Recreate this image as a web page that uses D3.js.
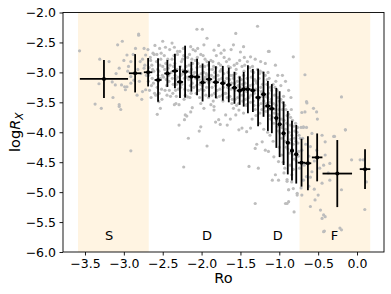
<!DOCTYPE html>
<html>
<head>
<meta charset="utf-8">
<script src="https://cdn.jsdelivr.net/npm/d3@7"></script>
<style>
html,body{margin:0;padding:0;background:#fff;}
text{font-family:"DejaVu Sans",sans-serif;}
</style>
</head>
<body>
<svg id="chart" width="391" height="294"></svg>
<script>
// ---- data ----
const xTicks = [-3.5, -3.0, -2.5, -2.0, -1.5, -1.0, -0.5, 0.0];
const yTicks = [-6.0, -5.5, -5.0, -4.5, -4.0, -3.5, -3.0, -2.5, -2.0];
const regionSpans = [[-3.59, -2.68], [-0.74, 0.17]];
const regionLabels = ["S", "D", "D", "F"];
const regionLabelRo = [-3.19, -1.93, -1.02, -0.29];
const regionLabelY = -5.72;

// binned means
const binRo   = [-3.256,-2.855,-2.688,-2.56,-2.44,-2.343,-2.278,-2.212,-2.132,-2.058,-1.987,-1.904,-1.817,-1.727,-1.65,-1.577,-1.51,-1.458,-1.404,-1.34,-1.273,-1.203,-1.147,-1.096,-1.038,-0.996,-0.945,-0.891,-0.837,-0.782,-0.714,-0.632,-0.513,-0.254,0.103];
const binLogR = [-3.11,-3.015,-2.998,-3.127,-3.018,-2.977,-3.16,-2.988,-3.072,-3.077,-3.169,-3.114,-3.165,-3.182,-3.21,-3.257,-3.305,-3.282,-3.282,-3.302,-3.419,-3.366,-3.561,-3.606,-3.761,-3.865,-4.017,-4.174,-4.307,-4.367,-4.508,-4.518,-4.42,-4.69,-4.616];
const binXErr = [0.31,0.08,0.055,0.045,0.04,0.04,0.04,0.04,0.04,0.04,0.04,0.04,0.04,0.035,0.035,0.035,0.035,0.035,0.035,0.035,0.035,0.035,0.035,0.035,0.025,0.025,0.025,0.025,0.025,0.025,0.05,0.043,0.068,0.19,0.068];
const binYErr = [0.317,0.32,0.237,0.364,0.225,0.287,0.267,0.434,0.25,0.306,0.317,0.30,0.267,0.29,0.29,0.267,0.237,0.29,0.40,0.36,0.48,0.376,0.417,0.41,0.5,0.55,0.53,0.53,0.5,0.49,0.40,0.45,0.40,0.56,0.33];

// individual stars [Ro, logRx]
const stars = [
[-3.57,-2.64],[-3.31,-2.78],[-3.37,-3.53],[-3.29,-3.60],[-3.32,-3.19],[-3.19,-2.82],[-3.14,-3.42],[-3.15,-3.16],
[-3.06,-3.54],[-3.04,-3.62],[-3.08,-2.54],[-3.02,-2.48],[-3.06,-2.93],[-3.00,-2.80],[-2.96,-2.71],[-2.91,-2.82],
[-2.94,-2.90],[-3.11,-3.21],[-3.03,-3.21],[-2.99,-3.24],[-2.91,-3.18],[-2.87,-3.13],[-2.91,-3.07],[-2.81,-2.38],
[-2.85,-2.60],[-2.74,-2.60],[-2.72,-2.71],[-2.79,-2.82],[-2.74,-2.93],[-2.72,-3.29],[-2.76,-3.32],[-2.83,-3.38],
[-2.96,-3.24],[-2.98,-3.29],[-3.06,-3.57],[-2.81,-2.36],[-2.91,-4.31],[-2.23,-4.58],[-2.95,-2.98],[-2.78,-3.02],
[-2.80,-3.15],[-2.76,-2.78],[-2.71,-3.05],[-2.73,-2.88],[-2.82,-2.95],[-2.88,-2.7],[-3.1,-3.02],[-2.77,-3.45],
// band
[-2.69,-2.62],[-2.66,-2.75],[-2.64,-2.88],[-2.68,-3.05],[-2.62,-3.18],[-2.67,-3.3],[-2.63,-2.95],[-2.61,-2.7],[-2.65,-3.42],[-2.6,-2.55],
[-2.58,-2.82],[-2.55,-2.98],[-2.53,-3.1],[-2.57,-3.25],[-2.52,-2.68],[-2.5,-2.9],[-2.59,-3.38],[-2.54,-2.6],[-2.51,-3.45],[-2.56,-3.05],
[-2.48,-2.72],[-2.46,-2.85],[-2.44,-3.0],[-2.42,-3.15],[-2.47,-3.3],[-2.41,-2.62],[-2.45,-3.22],[-2.43,-2.93],[-2.49,-3.08],[-2.4,-3.4],
[-2.38,-2.78],[-2.36,-2.9],[-2.34,-3.05],[-2.32,-3.2],[-2.37,-3.35],[-2.31,-2.7],[-2.35,-2.58],[-2.33,-3.12],[-2.39,-3.0],[-2.3,-3.28],
[-2.28,-2.65],[-2.26,-2.82],[-2.24,-2.96],[-2.22,-3.1],[-2.27,-3.25],[-2.21,-3.38],[-2.25,-3.03],[-2.23,-2.72],[-2.29,-3.15],[-2.2,-2.9],
[-2.18,-2.75],[-2.16,-2.88],[-2.14,-3.0],[-2.12,-3.18],[-2.17,-3.3],[-2.11,-2.62],[-2.15,-3.42],[-2.13,-2.95],[-2.19,-3.08],[-2.1,-3.25],
[-2.08,-2.8],[-2.06,-2.92],[-2.04,-3.05],[-2.02,-3.2],[-2.07,-3.35],[-2.01,-2.7],[-2.05,-2.6],[-2.03,-3.12],[-2.09,-3.0],[-2.0,-3.28],
[-1.98,-2.72],[-1.96,-2.9],[-1.94,-3.02],[-1.92,-3.15],[-1.97,-3.3],[-1.91,-3.42],[-1.95,-3.08],[-1.93,-2.82],[-1.99,-3.22],[-1.9,-2.95],
[-1.88,-2.8],[-1.86,-2.95],[-1.84,-3.08],[-1.82,-3.22],[-1.87,-3.38],[-1.81,-2.72],[-1.85,-3.48],[-1.83,-3.0],[-1.89,-3.15],[-1.8,-3.3],
[-1.78,-2.85],[-1.76,-2.98],[-1.74,-3.1],[-1.72,-3.25],[-1.77,-3.4],[-1.71,-2.75],[-1.75,-2.68],[-1.73,-3.18],[-1.79,-3.05],[-1.7,-3.35],
[-1.68,-2.82],[-1.66,-3.0],[-1.64,-3.12],[-1.62,-3.28],[-1.67,-3.42],[-1.61,-3.52],[-1.65,-3.2],[-1.63,-2.92],[-1.69,-3.35],[-1.6,-3.05],
[-1.58,-2.88],[-1.56,-3.02],[-1.54,-3.15],[-1.52,-3.3],[-1.57,-3.45],[-1.51,-2.8],[-1.55,-3.55],[-1.53,-3.22],[-1.59,-3.1],[-1.5,-3.38],
[-1.48,-2.9],[-1.46,-3.05],[-1.44,-3.18],[-1.42,-3.32],[-1.47,-3.48],[-1.41,-2.82],[-1.45,-2.75],[-1.43,-3.25],[-1.49,-3.12],[-1.4,-3.42],
[-1.38,-2.92],[-1.36,-3.08],[-1.34,-3.2],[-1.32,-3.35],[-1.37,-3.5],[-1.31,-3.62],[-1.35,-3.28],[-1.33,-3.0],[-1.39,-3.42],[-1.3,-3.15],
[-1.28,-2.95],[-1.26,-3.1],[-1.24,-3.25],[-1.22,-3.4],[-1.27,-3.55],[-1.21,-3.0],[-1.25,-3.68],[-1.23,-3.32],[-1.29,-3.18],[-1.2,-3.48],
[-1.18,-3.05],[-1.16,-3.2],[-1.14,-3.35],[-1.12,-3.5],[-1.17,-3.65],[-1.11,-3.78],[-1.15,-3.42],[-1.13,-3.1],[-1.19,-3.58],[-1.1,-3.3],
[-1.08,-3.2],[-1.06,-3.38],[-1.04,-3.55],[-1.02,-3.7],[-1.07,-3.85],[-1.01,-3.98],[-1.05,-3.62],[-1.03,-3.3],[-1.09,-3.75],[-1.0,-3.48],
[-0.98,-3.45],[-0.96,-3.62],[-0.94,-3.8],[-0.92,-3.95],[-0.97,-4.1],[-0.91,-4.25],[-0.95,-3.88],[-0.93,-3.55],[-0.99,-4.02],[-0.9,-3.72],
[-0.88,-3.7],[-0.86,-3.88],[-0.84,-4.05],[-0.82,-4.2],[-0.87,-4.35],[-0.81,-4.45],[-0.85,-4.12],[-0.83,-3.8],[-0.89,-4.28],[-0.8,-3.98],
[-0.79,-3.85],[-0.77,-4.0],[-0.76,-4.18],[-0.75,-4.32],[-0.78,-4.48],[-0.73,-4.1],[-0.74,-4.6],[-0.72,-3.92],
// band, second layer
[-2.655,-2.8],[-2.635,-3.1],[-2.615,-2.98],[-2.645,-3.22],[-2.625,-2.68],[-2.605,-3.35],[-2.675,-2.92],[-2.685,-3.15],
[-2.575,-2.7],[-2.555,-3.15],[-2.535,-2.88],[-2.515,-3.28],[-2.565,-2.95],[-2.545,-3.35],[-2.525,-2.78],[-2.505,-3.05],
[-2.475,-2.95],[-2.455,-3.12],[-2.435,-2.78],[-2.415,-3.3],[-2.465,-2.58],[-2.445,-3.38],[-2.425,-3.05],[-2.405,-2.88],
[-2.375,-3.1],[-2.355,-2.72],[-2.335,-3.3],[-2.315,-2.95],[-2.365,-3.2],[-2.345,-2.85],[-2.325,-3.4],[-2.305,-3.08],
[-2.275,-2.9],[-2.255,-3.2],[-2.235,-2.6],[-2.215,-3.28],[-2.265,-3.05],[-2.245,-2.78],[-2.225,-3.45],[-2.205,-3.0],
[-2.175,-2.98],[-2.155,-2.7],[-2.135,-3.35],[-2.115,-2.85],[-2.165,-3.12],[-2.145,-3.22],[-2.125,-2.78],[-2.105,-3.05],
[-2.075,-3.1],[-2.055,-2.75],[-2.035,-3.3],[-2.015,-2.9],[-2.065,-3.22],[-2.045,-2.85],[-2.025,-3.42],[-2.005,-3.02],
[-1.975,-3.0],[-1.955,-2.78],[-1.935,-3.25],[-1.915,-2.88],[-1.965,-3.12],[-1.945,-3.38],[-1.925,-3.05],[-1.905,-3.18],
[-1.875,-3.05],[-1.855,-2.82],[-1.835,-3.35],[-1.815,-2.92],[-1.865,-3.25],[-1.845,-2.9],[-1.825,-3.15],[-1.805,-3.42],
[-1.775,-3.12],[-1.755,-2.88],[-1.735,-3.38],[-1.715,-3.02],[-1.765,-3.28],[-1.745,-2.95],[-1.725,-3.48],[-1.705,-3.15],
[-1.675,-3.1],[-1.655,-2.9],[-1.635,-3.4],[-1.615,-3.18],[-1.665,-3.25],[-1.645,-2.78],[-1.625,-3.05],[-1.605,-3.45],
[-1.575,-3.18],[-1.555,-2.95],[-1.535,-3.42],[-1.515,-3.08],[-1.565,-3.3],[-1.545,-2.85],[-1.525,-3.52],[-1.505,-3.25],
[-1.475,-3.2],[-1.455,-2.98],[-1.435,-3.45],[-1.415,-3.1],[-1.465,-3.38],[-1.445,-2.88],[-1.425,-3.55],[-1.405,-3.28],
[-1.375,-3.22],[-1.355,-2.98],[-1.335,-3.48],[-1.315,-3.12],[-1.365,-3.38],[-1.345,-2.9],[-1.325,-3.55],[-1.305,-3.28],
[-1.275,-3.3],[-1.255,-3.02],[-1.235,-3.52],[-1.215,-3.2],[-1.265,-3.45],[-1.245,-2.98],[-1.225,-3.62],[-1.205,-3.35],
[-1.175,-3.4],[-1.155,-3.12],[-1.135,-3.62],[-1.115,-3.25],[-1.165,-3.52],[-1.145,-3.0],[-1.125,-3.72],[-1.105,-3.45],
[-1.075,-3.52],[-1.055,-3.25],[-1.035,-3.8],[-1.015,-3.42],[-1.065,-3.68],[-1.045,-3.15],[-1.025,-3.9],[-1.005,-3.62],
[-0.975,-3.78],[-0.955,-3.5],[-0.935,-4.05],[-0.915,-3.62],[-0.965,-3.92],[-0.945,-3.4],[-0.925,-4.15],[-0.905,-3.85],
[-0.875,-4.0],[-0.855,-3.75],[-0.835,-4.28],[-0.815,-3.9],[-0.865,-4.18],[-0.845,-3.62],[-0.825,-4.38],[-0.805,-4.1],
[-0.785,-4.15],[-0.765,-3.92],[-0.755,-4.4],[-0.745,-4.05],
// upper sparse
[-2.06,-2.28],[-1.99,-2.28],[-1.56,-2.35],[-1.28,-2.23],[-1.93,-2.43],[-1.46,-2.57],[-1.13,-2.65],[-0.82,-2.74],
[-2.38,-2.51],[-2.14,-2.57],[-1.97,-2.54],[-1.78,-2.55],[-1.84,-2.63],[-1.71,-2.63],[-1.59,-2.54],[-1.50,-2.66],
[-1.14,-2.65],[-1.37,-2.74],[-1.05,-2.88],[-1.24,-2.82],[-2.31,-2.65],[-2.08,-2.64],[-1.62,-2.62],[-1.31,-2.78],
[-1.18,-2.85],[-0.96,-3.05],[-0.92,-3.15],[-0.88,-3.3],[-0.85,-3.42],[-0.98,-3.22],[-1.02,-3.05],[-2.5,-2.48],
// lower side of band
[-2.57,-3.70],[-2.53,-3.60],[-2.29,-3.88],[-2.22,-3.79],[-2.19,-3.73],[-2.17,-4.10],[-2.03,-3.98],[-2.01,-3.91],
[-1.93,-4.23],[-1.82,-3.83],[-1.76,-3.87],[-1.67,-3.88],[-1.72,-4.13],[-1.63,-3.78],[-1.52,-3.96],[-1.48,-3.93],
[-1.42,-3.99],[-1.37,-3.93],[-1.39,-4.57],[-1.27,-4.60],[-1.31,-4.27],[-1.29,-4.20],[-1.22,-4.16],[-1.18,-4.30],
[-1.14,-4.32],[-1.07,-4.41],[-1.01,-4.49],[-1.05,-4.71],[-1.09,-4.80],[-1.01,-4.80],[-0.94,-4.68],[-0.90,-4.82],
[-0.88,-4.96],[-0.84,-4.71],[-1.31,-5.19],[-0.90,-5.19],[-0.77,-5.05],[-2.55,-3.49],[-2.35,-3.54],[-1.88,-3.54],
[-1.84,-3.63],[-2.12,-3.59],[-1.59,-3.60],[-1.52,-3.63],[-2.33,-3.52],[-2.29,-3.54],[-2.21,-3.71],[-2.14,-3.66],
[-2.01,-3.52],[-1.97,-3.60],[-1.84,-3.57],[-1.78,-3.79],[-1.69,-3.71],[-1.56,-3.71],[-1.46,-3.68],[-2.18,-3.41],
[-1.42,-3.54],[-1.25,-3.85],[-1.2,-3.95],[-1.12,-4.05],[-1.08,-4.15],[-1.0,-4.25],[-0.97,-4.38],[-0.95,-4.5],
[-0.93,-4.6],[-0.86,-4.55],[-0.82,-4.62],[-1.15,-4.0],[-1.35,-3.78],[-1.3,-3.72],
// F region
[-0.645,-3.51],[-0.71,-3.67],[-0.67,-3.66],[-0.52,-3.66],[-0.51,-3.78],[-0.69,-3.91],[-0.65,-3.92],[-0.58,-4.02],
[-0.45,-4.05],[-0.41,-4.16],[-0.30,-4.07],[-0.15,-3.96],[-0.60,-4.24],[-0.52,-4.30],[-0.71,-4.30],[-0.41,-4.38],
[-0.35,-4.52],[-0.07,-4.46],[0.04,-4.46],[-0.58,-4.66],[-0.43,-4.55],[-0.37,-4.68],[-0.20,-4.96],[-0.35,-4.80],
[-0.54,-5.13],[-0.60,-5.24],[-0.47,-5.30],[-0.43,-5.38],[-0.45,-5.44],[-0.41,-5.41],[-0.43,-5.66],[-0.22,-5.60],
[0.10,-5.29],[0.12,-4.83],[0.08,-4.46],[-0.72,-4.93],[-0.71,-5.05],[-0.69,-4.80],[-0.65,-4.74],[-0.92,-5.19],
[-0.88,-5.16],[-0.81,-5.33],[-0.90,-4.79],[-0.84,-4.83],[-0.82,-4.94],[-0.77,-5.02],[-0.88,-4.96],[-0.42,-5.65],
[-0.20,-5.63],[-0.67,-3.04],[-0.20,-3.41],[-0.65,-3.49],[-0.56,-3.60],[-0.69,-3.92],[-0.29,-4.07],[-0.15,-3.96],
[-0.70,-4.1],[-0.66,-4.2],[-0.62,-4.4],[-0.55,-4.48],[-0.48,-4.6],[-0.62,-4.9],[-0.55,-4.95],[-0.5,-5.05],
[-0.68,-4.55],[-0.6,-4.75],[-0.45,-4.85]
];

// ---- layout ----
const svg = d3.select("#chart");
const M = {left: 63, right: 384, top: 12.5, bottom: 252};
const x = d3.scaleLinear().domain([-3.783, 0.347]).range([M.left, M.right]);
const y = d3.scaleLinear().domain([-6.0, -2.0]).range([M.bottom, M.top]);

const g = svg.append("g");

// shaded regions
g.selectAll("rect.span").data(regionSpans).join("rect")
  .attr("class", "span")
  .attr("x", d => x(d[0])).attr("width", d => x(d[1]) - x(d[0]))
  .attr("y", M.top).attr("height", M.bottom - M.top)
  .attr("fill", "#fff4e2");

// scatter
g.selectAll("circle.star").data(stars).join("circle")
  .attr("class", "star")
  .attr("cx", d => x(d[0])).attr("cy", d => y(d[1]))
  .attr("r", 1.6).attr("fill", "#bdbdbd");

// error bars
const bins = binRo.map((r, i) => ({r, v: binLogR[i], xe: binXErr[i], ye: binYErr[i]}));
const eb = g.append("g").attr("stroke", "#000").attr("stroke-width", 1.8);
eb.selectAll("line.v").data(bins).join("line")
  .attr("x1", d => x(d.r)).attr("x2", d => x(d.r))
  .attr("y1", d => y(d.v - d.ye)).attr("y2", d => y(d.v + d.ye));
eb.selectAll("line.h").data(bins).join("line")
  .attr("x1", d => x(d.r - d.xe)).attr("x2", d => x(d.r + d.xe))
  .attr("y1", d => y(d.v)).attr("y2", d => y(d.v));
g.selectAll("circle.bin").data(bins).join("circle")
  .attr("cx", d => x(d.r)).attr("cy", d => y(d.v)).attr("r", 2).attr("fill", "#000");

// region labels
g.selectAll("text.reg").data(regionLabels).join("text")
  .attr("x", (d, i) => x(regionLabelRo[i])).attr("y", y(regionLabelY))
  .attr("dy", "0.36em").attr("text-anchor", "middle")
  .attr("font-size", 13).attr("fill", "#000").text(d => d);

// axes
const fmt = d3.format(".1f");
const xAxis = svg.append("g").attr("transform", `translate(0,${M.bottom})`)
  .call(d3.axisBottom(x).tickValues(xTicks).tickFormat(fmt).tickSize(3.5).tickPadding(3.5));
const yAxis = svg.append("g").attr("transform", `translate(${M.left},0)`)
  .call(d3.axisLeft(y).tickValues(yTicks).tickFormat(fmt).tickSize(3.5).tickPadding(3.5));
[xAxis, yAxis].forEach(a => {
  a.select(".domain").remove();
  a.selectAll("text").attr("font-size", 12.5).attr("fill", "#000").style("font-family", "DejaVu Sans");
  a.selectAll("line").attr("stroke", "#000").attr("stroke-width", 0.9);
});

// frame
svg.append("rect").attr("x", M.left).attr("y", M.top)
  .attr("width", M.right - M.left).attr("height", M.bottom - M.top)
  .attr("fill", "none").attr("stroke", "#000").attr("stroke-width", 0.9);

// axis labels
svg.append("text").attr("x", (M.left + M.right) / 2).attr("y", 283)
  .attr("text-anchor", "middle").attr("font-size", 14.5).text("Ro");
const yl = svg.append("text")
  .attr("transform", `translate(20,${(M.top + M.bottom) / 2}) rotate(-90)`)
  .attr("text-anchor", "middle").attr("font-size", 14.5);
yl.append("tspan").text("log");
yl.append("tspan").attr("font-style", "italic").text("R");
yl.append("tspan").attr("font-style", "italic").attr("font-size", 10.5).attr("dy", 3).text("X");
</script>
</body>
</html>
